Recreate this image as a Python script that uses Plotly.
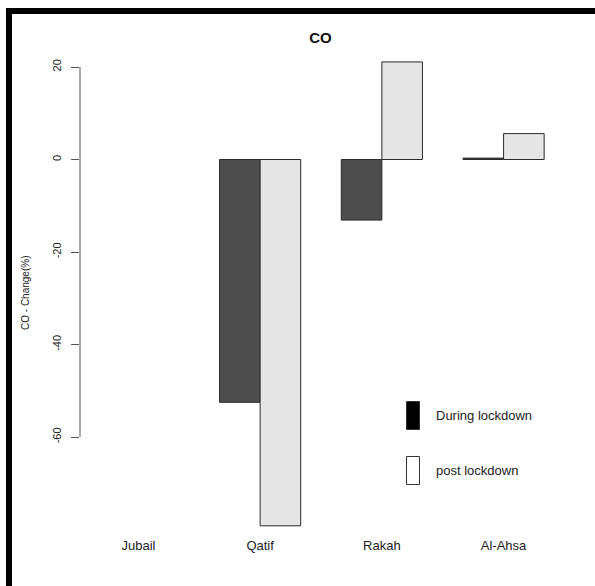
import plotly.graph_objects as go

# CO change per site, during and after lockdown (%)
sites = ["Jubail", "Qatif", "Rakah", "Al-Ahsa"]
during_lockdown = [None, -52.5, -13.1, 0.3]
post_lockdown = [None, -79.2, 21.1, 5.6]
series_names = ["During lockdown", "post lockdown"]
y_ticks = [-60, -40, -20, 0, 20]

FONT = "Liberation Sans, Arial, sans-serif"
W, H = 595, 586
L, R, T, B = 80, 33, 45, 54
PW, PH = W - L - R, H - T - B


def px_x(px):
    return (px - L) / PW


def px_y(py):
    return (H - B - py) / PH


fig = go.Figure()
fig.add_trace(go.Bar(
    x=sites, y=during_lockdown, name=series_names[0],
    marker=dict(color="#4d4d4d", line=dict(color="#2a2a2a", width=1)),
    showlegend=False,
))
fig.add_trace(go.Bar(
    x=sites, y=post_lockdown, name=series_names[1],
    marker=dict(color="#e5e5e5", line=dict(color="#2a2a2a", width=1)),
    showlegend=False,
))

# y axis line spanning only the labelled ticks
fig.add_shape(type="line", xref="paper", yref="y", x0=0, x1=0,
              y0=min(y_ticks), y1=max(y_ticks),
              line=dict(color="#555555", width=1))

# legend boxes and labels
legend_fill = ["#000000", "#ffffff"]
legend_y = [415.5, 470.5]
for name, fill, cy in zip(series_names, legend_fill, legend_y):
    fig.add_shape(type="rect", xref="paper", yref="paper",
                  x0=px_x(406.5), x1=px_x(419.5),
                  y0=px_y(cy - 14), y1=px_y(cy + 14),
                  fillcolor=fill, line=dict(color="#333333", width=1))
    fig.add_annotation(xref="paper", yref="paper", x=px_x(434), y=px_y(cy),
                       text=name, showarrow=False, xanchor="left",
                       yanchor="middle",
                       font=dict(family=FONT, size=13, color="#222222"))

# y axis title
fig.add_annotation(xref="paper", yref="paper", x=px_x(25), y=px_y(293),
                   text="CO - Change(%)", textangle=-90, showarrow=False,
                   xanchor="center", yanchor="middle",
                   font=dict(family=FONT, size=10, color="#222222"))

# frame lines along the top and left edges
fig.add_shape(type="rect", xref="paper", yref="paper",
              x0=px_x(6), x1=px_x(596), y0=px_y(8), y1=px_y(14),
              fillcolor="#000000", line=dict(width=0), layer="above")
fig.add_shape(type="rect", xref="paper", yref="paper",
              x0=px_x(6), x1=px_x(12), y0=px_y(8), y1=px_y(587),
              fillcolor="#000000", line=dict(width=0), layer="above")

zero_px = 159.5
scale = 4.625
fig.update_layout(
    width=W, height=H,
    margin=dict(l=L, r=R, t=T, b=B),
    paper_bgcolor="white", plot_bgcolor="white",
    barmode="group", bargap=1/3, bargroupgap=0,
    title=dict(text="<b>CO</b>", x=px_x(320.5), xref="paper",
               y=1 - 38 / H, yanchor="middle", xanchor="center",
               font=dict(family=FONT, size=15, color="#111111")),
    xaxis=dict(type="category", range=[-0.48, 3.48], showgrid=False,
               zeroline=False, showline=False, ticks="",
               tickfont=dict(family=FONT, size=13, color="#222222"),
               ticklabelstandoff=4),
    yaxis=dict(range=[(zero_px - (H - B)) / scale, (zero_px - T) / scale],
               tickvals=y_ticks, ticktext=[str(v) for v in y_ticks],
               tickangle=-90, ticks="outside", ticklen=8,
               tickcolor="#555555", showgrid=False, zeroline=False,
               showline=False,
               tickfont=dict(family=FONT, size=11, color="#222222"),
               ticklabelstandoff=6),
    font=dict(family=FONT),
)

fig.write_html("out.html")
